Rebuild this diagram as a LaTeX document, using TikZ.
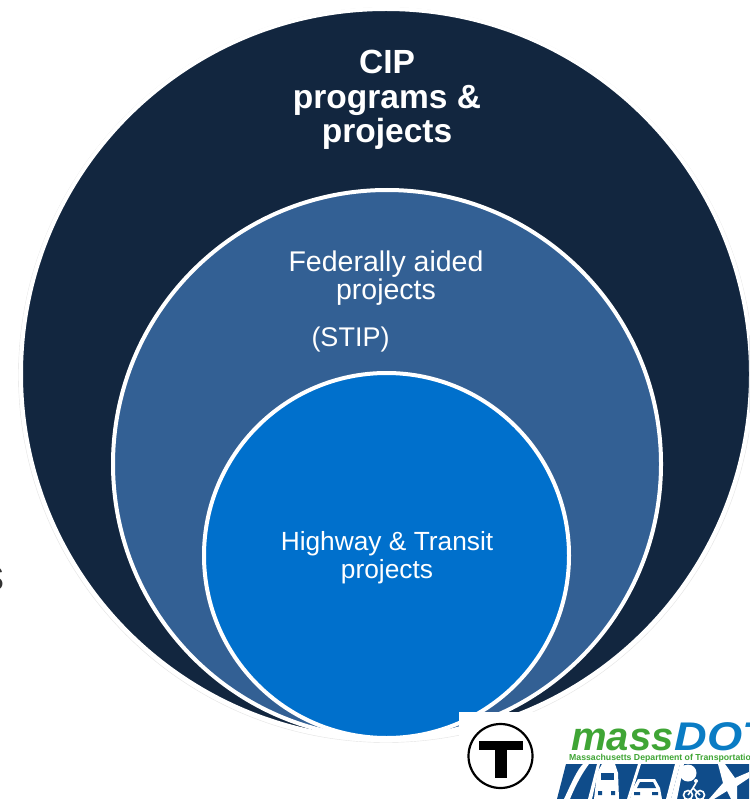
\documentclass[tikz,border=0pt]{standalone}
\usepackage{fontspec}
\setmainfont{Liberation Sans}
\definecolor{navy}{HTML}{12263F}
\definecolor{midblue}{HTML}{336094}
\definecolor{brightblue}{HTML}{0070CC}
\definecolor{dotgreen}{HTML}{3FA535}
\definecolor{dotblue}{HTML}{0A7CC4}
\definecolor{bandblue}{HTML}{0F4C8A}
\tikzset{
  x=1pt,y=-1pt,
  ring/.style={circle,draw=white,line width=4pt,inner sep=0pt},
  label/.style={text=white,align=center,inner sep=0pt},
  icon/.style={fill=white,draw=none},
  iconline/.style={draw=white,line width=1.6pt,fill=none}
}
\begin{document}
\begin{tikzpicture}
\useasboundingbox (0,0) rectangle (749,799);
\clip (0,0) rectangle (749,799);
\fill[white] (0,0) rectangle (749,799);
\node[anchor=base,font=\fontsize{44}{44}\selectfont,text=black!80,inner sep=0pt] (stray) at (-6,590) {s};
\draw[gray!22,line width=0.4pt] (386,375) circle (367.5);
\node[ring,fill=navy,minimum size=730pt] (outer) at (386,374) {};
\node[ring,fill=midblue,minimum size=548pt] (middle) at (387,464) {};
\node[ring,fill=brightblue,minimum size=365pt] (inner) at (386.5,555.5) {};
\node[label,font=\fontsize{33.5}{34.5}\selectfont\bfseries] (cip) at (387,100) {CIP\\programs \&\\projects};
\node[label,font=\fontsize{28.5}{28.5}\selectfont] (fed) at (386,278) {Federally aided\\projects};
\node[label,font=\fontsize{27}{28}\selectfont] (stip) at (350.5,340) {(STIP)};
\node[label,font=\fontsize{26.3}{28}\selectfont] (hwy) at (387,558) {Highway \& Transit\\projects};
% logos
\fill[white] (459,712) rectangle (749,799);
\node[circle,draw=black,line width=2.2pt,fill=white,minimum size=64pt,inner sep=0pt] (tlogo) at (500.5,756) {};
\fill[black] (479,741) rectangle (523,750);
\fill[black] (495,741) rectangle (507,778);
\node[anchor=base west,inner sep=0pt,font=\fontsize{40}{40}\selectfont\bfseries\itshape] (mass) at (571,750) {\textcolor{dotgreen}{mass}\hspace{1pt}\textcolor{dotblue}{\scalebox{1.13}[1]{DOT}}};
\node[anchor=base west,inner sep=0pt,text=dotgreen,font=\fontsize{8.7}{9}\selectfont\bfseries] (dept) at (569,760) {Massachusetts Department of Transportation};
% icon band
\fill[bandblue] (566,764) -- (749,764) -- (749,799) -- (557,799) -- cycle;
% road
\fill[icon] (583,764) .. controls (577,770) and (572,782) .. (564,799) -- (570,799) .. controls (576,784) and (583,772) .. (589,764) -- cycle;
% gaps
\fill[icon] (597,764) -- (600,764) -- (592,799) -- (588,799) -- cycle;
\fill[icon] (638,764) -- (641,764) -- (630,799) -- (627,799) -- cycle;
\fill[icon] (675,764) -- (680,764) -- (671,799) -- (666,799) -- cycle;
% train
\fill[icon] (602,764) -- (615,764) -- (618,773) -- (619,799) -- (594,799) -- (597,773) -- cycle;
\fill[bandblue] (601,773) rectangle (614,780);
\fill[bandblue] (598,791) rectangle (602,795) (611,791) rectangle (615,795);
% car
\fill[icon] (630,799) -- (633,788) -- (638,779) -- (655,779) -- (660,788) -- (662,799) -- cycle;
\fill[bandblue] (637,788) -- (640,782) -- (653,782) -- (656,788) -- cycle;
\fill[bandblue] (634,792) rectangle (640,795) (652,792) rectangle (658,795);
% tree
\fill[icon] (680,764) -- (684,764) -- (677,799) -- (671,799) -- cycle;
\fill[icon] (688,773) circle (8.5);
% bike
\draw[iconline] (688,795) circle (4.5) (700,795) circle (4.5);
\draw[iconline] (688,795) -- (693,788) -- (700,795) (693,788) -- (696,783);
\fill[icon] (696,781) circle (2);
% plane
\fill[icon] (718,764) -- (725,764) -- (735,778) -- (749,772) -- (749,778) -- (737,786) -- (737,799) -- (731,799) -- (727,791) -- (714,799) -- (709,799) -- (723,783) -- cycle;
\end{tikzpicture}
\end{document}
